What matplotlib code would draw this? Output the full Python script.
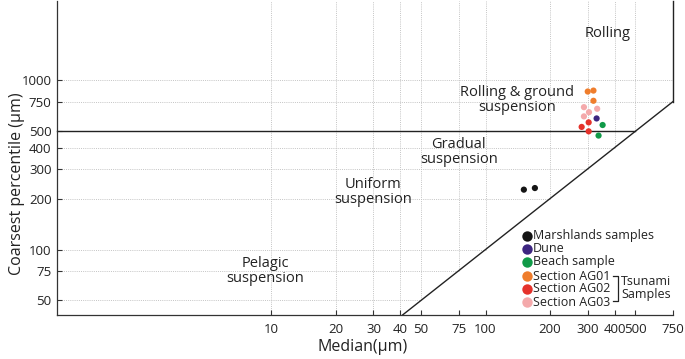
import matplotlib
matplotlib.use("Agg")
import matplotlib.pyplot as plt
from matplotlib.ticker import FixedLocator, FixedFormatter, NullLocator

plt.rcParams['font.family'] = ['Open Sans', 'DejaVu Sans']

# median (um) / coarsest percentile (um)
marsh_m = [151, 170]
marsh_c = [226, 231]
dune_m = [330]
dune_c = [596]
beach_m = [352, 337]
beach_c = [545, 472]
ag01_m = [300, 319, 319]
ag01_c = [860, 871, 758]
ag02_m = [303, 281, 303]
ag02_c = [565, 531, 500]
ag03_m = [288, 304, 332, 288]
ag03_c = [695, 649, 680, 613]

labels = ['Marshlands samples', 'Dune', 'Beach sample',
          'Section AG01', 'Section AG02', 'Section AG03']
colors = ['#151515', '#3d2580', '#109a48', '#ef7d2c', '#e5322b', '#f4a9ab']

x_ticks = [10, 20, 30, 40, 50, 75, 100, 200, 300, 400, 500, 750]
y_ticks = [50, 75, 100, 200, 300, 400, 500, 750, 1000]

W, H = 685, 359
def fig_xy(px, py):
    # pixel from top-left -> figure fraction
    return px / W, 1 - py / H

fig = plt.figure(figsize=(W / 100, H / 100), dpi=100)
ax = fig.add_axes([57 / W, 1 - 315 / H, 616 / W, 314 / H])
ax.set_xscale('log')
ax.set_yscale('log')
xmin, xmax = 1, 750
ymin, ymax = 41, 2950
ax.set_xlim(xmin, xmax)
ax.set_ylim(ymin, ymax)

# dotted grid, clipped at the C = M line
gkw = dict(color='#c4c4c4', lw=0.7, ls=(0, (1, 1.2)), zorder=0)
for xv in x_ticks[:-1]:
    ax.plot([xv, xv], [max(xv, ymin), ymax], **gkw)
for yv in y_ticks:
    if yv == 500:
        continue
    ax.plot([xmin, min(yv, xmax)], [yv, yv], **gkw)

# field boundaries
bkw = dict(color='#222222', lw=1.0, zorder=2, clip_on=False)
ax.plot([xmin, 500], [500, 500], **bkw)
ax.plot([ymin, 750], [ymin, 750], **bkw)
ax.plot([750, 750], [750, ymax], **bkw)

groups = [(marsh_m, marsh_c), (dune_m, dune_c), (beach_m, beach_c),
          (ag01_m, ag01_c), (ag02_m, ag02_c), (ag03_m, ag03_c)]
for (m, c), col in zip(groups, colors):
    ax.scatter(m, c, s=20, color=col, edgecolors='none', zorder=3)

# field names
tkw = dict(ha='center', va='center', fontsize=10.5, color='#222222',
           linespacing=1.0)
ax.text(370, 1890, 'Rolling', **tkw)
ax.text(140, 770, 'Rolling & ground\nsuspension', **tkw)
ax.text(75, 376, 'Gradual\nsuspension', **tkw)
ax.text(30, 219, 'Uniform\nsuspension', **tkw)
ax.text(9.4, 75, 'Pelagic\nsuspension', **tkw)

# axes styling
for side in ['top', 'right']:
    ax.spines[side].set_visible(False)
for side in ['left', 'bottom']:
    ax.spines[side].set_color('#333333')
    ax.spines[side].set_linewidth(0.9)
ax.xaxis.set_major_locator(FixedLocator(x_ticks))
ax.xaxis.set_major_formatter(FixedFormatter([str(v) for v in x_ticks]))
ax.yaxis.set_major_locator(FixedLocator(y_ticks))
ax.yaxis.set_major_formatter(FixedFormatter([str(v) for v in y_ticks]))
ax.xaxis.set_minor_locator(NullLocator())
ax.yaxis.set_minor_locator(NullLocator())
ax.tick_params(direction='in', length=3.5, width=0.8, color='#333333',
               labelsize=9.5, labelcolor='#222222')
ax.tick_params(axis='x', pad=6)
ax.tick_params(axis='y', pad=4)

fig.text(*fig_xy(17, 184), 'Coarsest percentile (µm)', rotation=90,
         ha='center', va='center', fontsize=11.5, color='#222222')
fig.text(*fig_xy(363, 347), 'Median(µm)', ha='center', va='center',
         fontsize=11.5, color='#222222')

# legend, drawn by hand so the tsunami bracket lines up
rows_y = [236, 249, 262, 276, 289, 302]
for lab, col, py in zip(labels, colors, rows_y):
    fx, fy = fig_xy(527, py)
    fig.lines.append(plt.Line2D([fx], [fy], marker='o', ms=7.5, color=col,
                                mec='none', transform=fig.transFigure))
    fig.text(*fig_xy(533, py), lab, ha='left', va='center', fontsize=9,
             color='#222222')

bx0, bx1 = 613 / W, 618 / W
_, by0 = fig_xy(0, 276)
_, by1 = fig_xy(0, 301)
fig.lines.append(plt.Line2D([bx0, bx1, bx1, bx0], [by0, by0, by1, by1],
                            color='#222222', lw=0.9, transform=fig.transFigure))
fig.text(*fig_xy(621, 288), 'Tsunami\nSamples', ha='left', va='center',
         fontsize=9, color='#222222', linespacing=1.0)

fig.savefig('out.png', dpi=100, facecolor='white')
